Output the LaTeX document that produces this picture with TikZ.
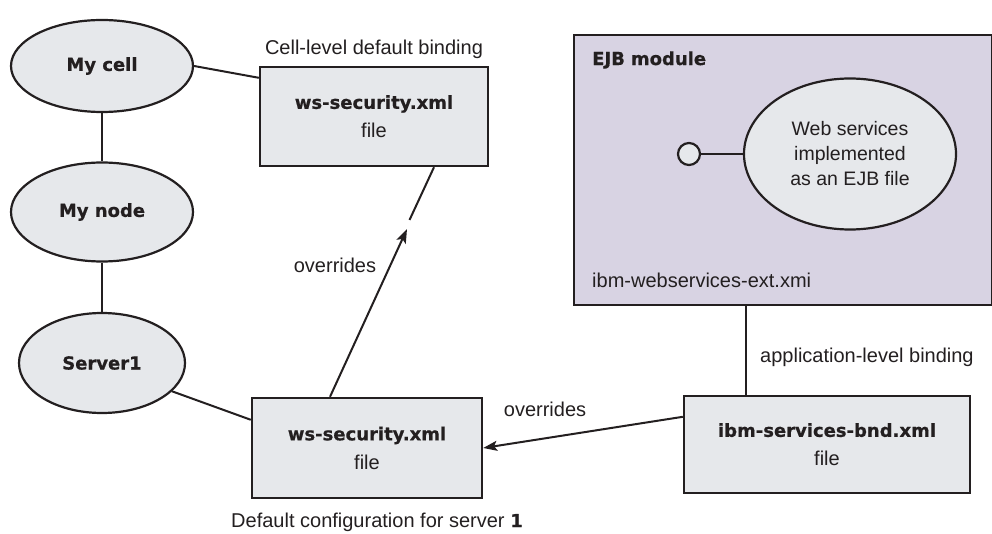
\documentclass[tikz,border=0pt]{standalone}
\usepackage{fontspec}
\setmainfont{Liberation Sans}
\newfontfamily\heavyfont{DejaVu Sans}[BoldFont={DejaVu Sans Bold},BoldFeatures={FakeBold=0.6}]
\usetikzlibrary{shapes.geometric,arrows.meta}
\definecolor{nodefill}{HTML}{E6E8EB}
\definecolor{modfill}{HTML}{D8D3E3}
\definecolor{ink}{HTML}{231F20}
\newcommand{\hv}{\heavyfont\bfseries\fontsize{18}{24}\selectfont}
\newcommand{\rg}{\fontsize{20}{24}\selectfont}
\begin{document}
\begin{tikzpicture}[x=1pt,y=-1pt,
  every node/.style={text=ink},
  ell/.style={ellipse,draw=ink,line width=2.2pt,fill=nodefill,inner sep=0pt,font=\hv},
  filebox/.style={rectangle,draw=ink,line width=2.4pt,fill=nodefill,inner sep=0pt,align=center,font=\rg,text depth=0pt},
  conn/.style={draw=ink,line width=2pt},
  lbl/.style={font=\rg,inner sep=0pt}]
\useasboundingbox (0,0) rectangle (992,534);
% module
\node[rectangle,draw=ink,line width=2.4pt,fill=modfill,minimum width=418pt,minimum height=270pt,inner sep=0pt,anchor=north west] (module) at (573,34) {};
\node[font=\hv,anchor=west,inner sep=0pt] (ejb) at (592,60) {EJB\,\,module};
\node[lbl,anchor=west] (ext) at (592,280) {ibm-webservices-ext.xmi};
\node[ellipse,draw=ink,line width=2.2pt,fill=nodefill,minimum width=212pt,minimum height=151pt,inner sep=0pt,align=center,font=\fontsize{19.5}{25}\selectfont] (ws) at (850,154) {Web services\\implemented\\as an EJB file};
\node[circle,draw=ink,line width=2.2pt,fill=nodefill,minimum size=22pt,inner sep=0pt] (circ) at (689,154) {};
\draw[conn] (circ) -- (ws);
% left ellipses
\node[ell,minimum width=182pt,minimum height=92pt] (mycell) at (102,66) {My cell};
\node[ell,minimum width=182pt,minimum height=99pt] (mynode) at (102,212) {My node};
\node[ell,minimum width=166pt,minimum height=100pt] (server) at (102,363) {Server1};
% boxes
\node[filebox,minimum width=228pt,minimum height=99pt] (box1) at (374,116.5) {{\hv ws-security.xml}\\[5pt]file};
\node[filebox,minimum width=230pt,minimum height=100pt] (box2) at (367,448) {{\hv ws-security.xml}\\[5pt]file};
\node[filebox,minimum width=286pt,minimum height=97pt] (box3) at (827,444.5) {{\hv ibm-services-bnd.xml}\\[5pt]file};
% labels
\node[lbl] (celllbl) at (374,49) {Cell-level default binding};
\node[lbl] (ovr1) at (335,265) {overrides};
\node[lbl] (ovr2) at (545,409) {overrides};
\node[lbl,anchor=west] (applbl) at (760,357) {application-level binding};
\node[lbl] (deflbl) at (377,522) {Default configuration for server {\hv 1}};
% connectors
\draw[conn] (mycell) -- (mynode);
\draw[conn] (mynode) -- (server);
\draw[conn] (mycell.east) -- ([yshift=-12pt]box1.north west);
\draw[conn] (server.-22) -- ([yshift=-23pt]box2.north west);
\coordinate (tip) at (407,229);
\coordinate (gapend) at (409.5,220);
\draw[conn,-{Stealth[length=14pt,width=10pt,inset=3pt]}] ([xshift=-37pt]box2.north) -- (tip);
\draw[conn] (gapend) -- ([xshift=60pt]box1.south);
\draw[conn,-{Stealth[length=14pt,width=10pt,inset=3pt]}] ([yshift=-22pt]box3.north west) -- (box2.east);
\draw[conn] ([xshift=-81pt]box3.north) -- ([xshift=-81pt]box3.north |- module.south);
\end{tikzpicture}
\end{document}
